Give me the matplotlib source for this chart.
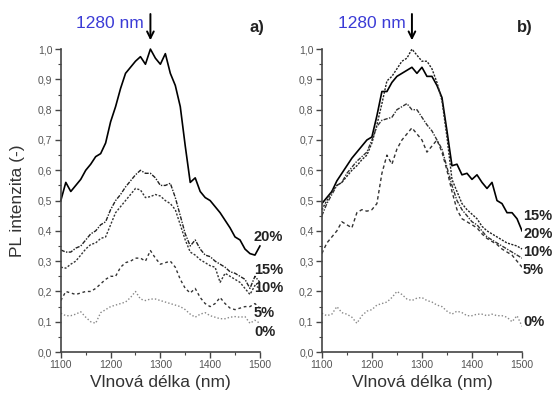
import numpy as np
import matplotlib
matplotlib.use('Agg')
import matplotlib.pyplot as plt
from matplotlib.ticker import MultipleLocator, FuncFormatter

plt.rcParams['font.family'] = ['Liberation Sans', 'DejaVu Sans']

# wavelength grid (nm)
wl = np.arange(1100, 1501, 10)

# panel a) PL intensity
a20 = [0.50, 0.56, 0.53, 0.55, 0.57, 0.60, 0.62, 0.645, 0.655, 0.69, 0.76, 0.81, 0.87, 0.92,
       0.94, 0.96, 0.975, 0.95, 1.0, 0.97, 0.95, 0.985, 0.92, 0.88, 0.81, 0.68, 0.56, 0.575,
       0.53, 0.51, 0.50, 0.48, 0.46, 0.435, 0.41, 0.38, 0.37, 0.34, 0.325, 0.32, 0.35]
a15 = [0.337, 0.33, 0.33, 0.343, 0.35, 0.37, 0.39, 0.40, 0.42, 0.43, 0.47, 0.50, 0.52, 0.545,
       0.565, 0.585, 0.60, 0.59, 0.59, 0.575, 0.55, 0.55, 0.557, 0.51, 0.45, 0.39, 0.35, 0.37,
       0.34, 0.32, 0.315, 0.30, 0.29, 0.28, 0.265, 0.26, 0.25, 0.24, 0.21, 0.25, 0.23]
a10 = [0.28, 0.277, 0.29, 0.30, 0.32, 0.34, 0.355, 0.36, 0.375, 0.38, 0.42, 0.46, 0.48, 0.50,
       0.52, 0.54, 0.535, 0.51, 0.513, 0.52, 0.515, 0.50, 0.49, 0.47, 0.42, 0.37, 0.33, 0.32,
       0.305, 0.295, 0.285, 0.28, 0.23, 0.26, 0.25, 0.24, 0.23, 0.21, 0.19, 0.22, 0.21]
a5 = [0.17, 0.20, 0.195, 0.19, 0.195, 0.20, 0.20, 0.21, 0.225, 0.24, 0.25, 0.25, 0.28, 0.295,
      0.30, 0.31, 0.31, 0.30, 0.335, 0.31, 0.29, 0.295, 0.30, 0.28, 0.24, 0.21, 0.195, 0.21,
      0.18, 0.16, 0.15, 0.16, 0.18, 0.16, 0.145, 0.14, 0.145, 0.15, 0.15, 0.16, 0.145]
a0 = [0.128, 0.12, 0.12, 0.125, 0.133, 0.115, 0.10, 0.095, 0.13, 0.14, 0.15, 0.155, 0.16, 0.165,
      0.18, 0.20, 0.175, 0.17, 0.175, 0.175, 0.17, 0.165, 0.16, 0.155, 0.15, 0.14, 0.125, 0.115,
      0.125, 0.13, 0.12, 0.115, 0.11, 0.11, 0.115, 0.117, 0.115, 0.117, 0.095, 0.105, 0.095]

# panel b) PL intensity
b15 = [0.49, 0.51, 0.53, 0.565, 0.59, 0.615, 0.64, 0.66, 0.68, 0.70, 0.71, 0.78, 0.86, 0.86,
       0.89, 0.91, 0.92, 0.93, 0.94, 0.92, 0.94, 0.91, 0.91, 0.88, 0.84, 0.73, 0.615, 0.62,
       0.585, 0.59, 0.57, 0.585, 0.56, 0.54, 0.56, 0.50, 0.49, 0.46, 0.46, 0.44, 0.40]
b20 = [0.47, 0.50, 0.53, 0.55, 0.56, 0.58, 0.60, 0.615, 0.635, 0.65, 0.69, 0.75, 0.82, 0.895,
       0.91, 0.935, 0.96, 0.97, 1.0, 0.98, 0.96, 0.96, 0.935, 0.89, 0.83, 0.71, 0.57, 0.53,
       0.49, 0.47, 0.455, 0.44, 0.415, 0.40, 0.39, 0.38, 0.37, 0.36, 0.355, 0.35, 0.34]
b10 = [0.45, 0.49, 0.52, 0.55, 0.56, 0.59, 0.61, 0.63, 0.645, 0.66, 0.70, 0.745, 0.765, 0.77,
       0.775, 0.80, 0.81, 0.82, 0.80, 0.80, 0.775, 0.75, 0.73, 0.70, 0.67, 0.61, 0.55, 0.50,
       0.47, 0.45, 0.43, 0.42, 0.40, 0.38, 0.37, 0.36, 0.35, 0.34, 0.33, 0.32, 0.31]
b5 = [0.325, 0.36, 0.38, 0.40, 0.43, 0.42, 0.41, 0.46, 0.47, 0.465, 0.47, 0.49, 0.59, 0.65,
      0.62, 0.67, 0.70, 0.72, 0.74, 0.72, 0.70, 0.66, 0.68, 0.70, 0.66, 0.60, 0.53, 0.47,
      0.44, 0.43, 0.42, 0.41, 0.39, 0.375, 0.365, 0.355, 0.34, 0.33, 0.32, 0.30, 0.28]
b0 = [0.128, 0.12, 0.125, 0.15, 0.13, 0.125, 0.115, 0.095, 0.12, 0.135, 0.14, 0.155, 0.16, 0.165,
      0.18, 0.20, 0.19, 0.175, 0.17, 0.178, 0.18, 0.17, 0.165, 0.155, 0.15, 0.135, 0.125, 0.135,
      0.13, 0.12, 0.12, 0.125, 0.125, 0.12, 0.125, 0.12, 0.12, 0.115, 0.10, 0.12, 0.085]

# end labels: (text, y position)
labels_a = [('20%', 0.38), ('15%', 0.27), ('10%', 0.21), ('5%', 0.13), ('0%', 0.066)]
labels_b = [('15%', 0.45), ('20%', 0.39), ('10%', 0.33), ('5%', 0.27), ('0%', 0.10)]

peak = 1280

fig = plt.figure(figsize=(5.53, 3.96), dpi=100)
ax_a = fig.add_axes([0.110, 0.111, 0.360, 0.765])
ax_b = fig.add_axes([0.582, 0.111, 0.362, 0.765])

comma = FuncFormatter(lambda v, p: f'{v:.1f}'.replace('.', ','))


def style_axis(ax):
    ax.set_xlim(1100, 1500)
    ax.set_ylim(0, 1.0)
    for s in ['top', 'right']:
        ax.spines[s].set_visible(False)
    for s in ['left', 'bottom']:
        ax.spines[s].set_color('#444444')
        ax.spines[s].set_linewidth(1.2)
    ax.xaxis.set_major_locator(MultipleLocator(100))
    ax.xaxis.set_minor_locator(MultipleLocator(50))
    ax.yaxis.set_major_locator(MultipleLocator(0.1))
    ax.yaxis.set_minor_locator(MultipleLocator(0.05))
    ax.yaxis.set_major_formatter(comma)
    ax.tick_params(which='major', length=4, width=1, color='#444444', labelsize=7.5,
                   labelcolor='#555555', pad=2)
    ax.tick_params(which='minor', length=2, width=0.8, color='#444444')
    ax.set_xlabel('Vlnová délka (nm)', fontsize=12.5, color='#333333', labelpad=3)


# panel a
ax_a.plot(wl, a20, color='black', lw=1.2, clip_on=False)
ax_a.plot(wl, a15, color='#222222', lw=1.0, dashes=(3, 1, 1, 1))
ax_a.plot(wl, a10, color='#333333', lw=1.0, dashes=(1.5, 1.2))
ax_a.plot(wl, a5, color='#333333', lw=1.0, dashes=(2, 2))
ax_a.plot(wl, a0, color='#888888', lw=1.0, dashes=(1, 1.5))
style_axis(ax_a)
ax_a.set_ylabel('PL intenzita (-)', fontsize=12.5, color='#333333', labelpad=9)

# panel b
ax_b.plot(wl, b15, color='black', lw=1.2)
ax_b.plot(wl, b20, color='#222222', lw=1.0, dashes=(1.5, 1), clip_on=False)
ax_b.plot(wl, b10, color='#333333', lw=1.0, dashes=(3, 1, 1, 1))
ax_b.plot(wl, b5, color='#333333', lw=1.0, dashes=(2.5, 2))
ax_b.plot(wl, b0, color='#888888', lw=1.0, dashes=(1, 1.5))
style_axis(ax_b)

for ax, labels, tag in [(ax_a, labels_a, 'a)'), (ax_b, labels_b, 'b)')]:
    for txt, y in labels:
        ax.text(1488 if ax is ax_a else 1502, y, txt, fontsize=10.5, fontweight='bold',
                color='#222222', va='center', ha='left', clip_on=False)
    ax.annotate('', xy=(peak, 1.02), xytext=(peak, 1.125),
                arrowprops=dict(arrowstyle='->', color='black', lw=1.4, mutation_scale=12),
                annotation_clip=False)
    ax.text(peak - 13, 1.085, '1280 nm', fontsize=12.5, color='#3b3bd6', ha='right',
            va='center', clip_on=False)
    ax.text(1505 if ax is ax_b else 1495, 1.07, tag, fontsize=12, fontweight='bold',
            color='#222222', ha='center', va='center', clip_on=False)

fig.savefig('out.png', dpi=100)
